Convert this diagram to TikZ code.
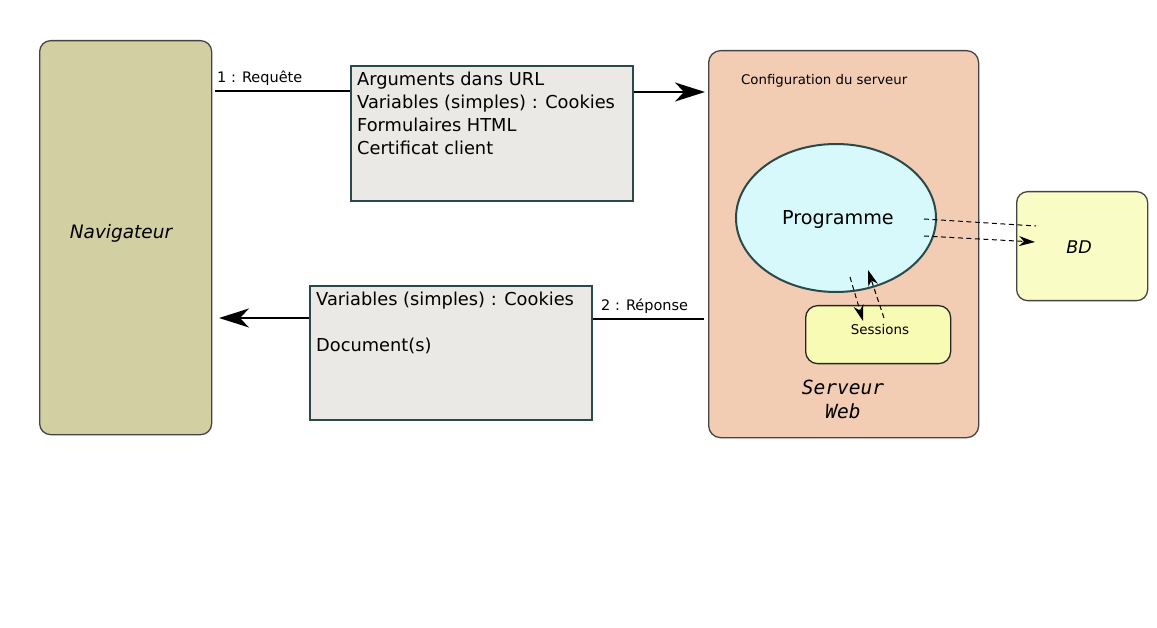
\documentclass[tikz,border=0pt]{standalone}
\usepackage{fontspec}
\setmainfont{DejaVu Sans}
\setmonofont{DejaVu Sans Mono}
\usetikzlibrary{arrows.meta,shapes.geometric}
\definecolor{navfill}{HTML}{D2CFA3}
\definecolor{srvfill}{HTML}{F2CDB4}
\definecolor{progfill}{HTML}{D7F9FC}
\definecolor{bdfill}{HTML}{F9FCC4}
\definecolor{sessfill}{HTML}{F8FBB3}
\definecolor{msgfill}{HTML}{EAE9E6}
\definecolor{teal}{HTML}{2A4A4A}
\definecolor{grayline}{HTML}{444444}
\tikzset{
  rbox/.style={draw=grayline, line width=1.3pt, rounded corners=11pt, inner sep=0pt, anchor=north west},
  msgbox/.style={draw=teal, line width=1.8pt, fill=msgfill, inner sep=0pt, anchor=north west},
  msgtext/.style={anchor=north west, align=left, inner sep=0pt, font=\fontsize{17.8}{23}\selectfont},
  smalllab/.style={inner sep=0pt, font=\fontsize{14.5}{17}\selectfont},
  bigarrow/.style={line width=1.8pt, -{Stealth[length=30pt,width=19pt,inset=9pt]}},
  plainline/.style={line width=1.8pt},
  dashline/.style={line width=1pt, dash pattern=on 5pt off 3.5pt},
  dasharrow/.style={dashline, -{Stealth[length=16pt,width=10pt,inset=5pt]}}
}
\begin{document}
\begin{tikzpicture}[x=1pt,y=-1pt]
\useasboundingbox (0,0) rectangle (1157,628);
% Navigateur
\node[rbox, fill=navfill, minimum width=172pt, minimum height=394pt] (nav) at (39,40) {};
\node[font=\fontsize{18.5}{22}\selectfont\itshape] (navt) at (121,233) {Navigateur};
% Serveur
\node[rbox, fill=srvfill, minimum width=270pt, minimum height=387pt, rounded corners=12pt] (srv) at (708,50) {};
\node[anchor=base west, inner sep=0pt, font=\fontsize{13.3}{16}\selectfont] (conf) at (741,85) {Configuration du serveur};
\node[draw=teal, line width=2pt, fill=progfill, ellipse, minimum width=200pt, minimum height=148pt, inner sep=0pt] (prog) at (836,218) {};
\node[font=\fontsize{19.2}{23}\selectfont] (progt) at (838,219) {Programme};
\node[rbox, draw=black!85, fill=sessfill, minimum width=145pt, minimum height=58pt, rounded corners=12pt] (sess) at (805,305) {};
\node[anchor=base, inner sep=0pt, font=\fontsize{13.4}{16}\selectfont] (sesst) at (880,335) {Sessions};
\node[align=center, inner sep=0pt, font=\fontsize{19.5}{24}\selectfont\ttfamily\itshape] (srvt) at (843,399) {Serveur\\Web};
% BD
\node[rbox, fill=bdfill, minimum width=131pt, minimum height=109pt] (bd) at (1016,191) {};
\node[font=\fontsize{17.5}{21}\selectfont\itshape] (bdt) at (1079,247) {BD};
% Requete
\node[msgbox, minimum width=282pt, minimum height=135pt] (req) at (350,65) {};
\node[msgtext] (reqt) at (357,72) {Arguments dans URL\\Variables (simples) : Cookies\\Formulaires HTML\\Certificat client};
% Reponse
\node[msgbox, minimum width=282pt, minimum height=134pt] (rep) at (309,285) {};
\node[msgtext] (rept) at (316,292) {Variables (simples) : Cookies\\[23pt]Document(s)};
% connectors
\coordinate (c1) at (215,91);
\draw[plainline] (c1) -- (req.west |- c1);
\node[smalllab, anchor=base west] (l1) at (217,83) {1 : Requête};
\coordinate (c2) at (705,92);
\draw[bigarrow] (req.east |- c2) -- (c2);
\coordinate (c3) at (704,319);
\draw[plainline] (rep.east |- c3) -- (c3);
\node[smalllab, anchor=base west] (l2) at (601,311) {2 : Réponse};
\coordinate (c4) at (219,318);
\draw[bigarrow] (rep.west |- c4) -- (c4);
% dashed
\coordinate (d1a) at (924,219);
\coordinate (d1b) at (1036,226);
\draw[dashline] (d1a) -- (d1b);
\coordinate (d2a) at (924,236);
\coordinate (d2b) at (1035,242);
\draw[dasharrow] (d2a) -- (d2b);
\coordinate (d3a) at (850,277);
\coordinate (d3b) at (863,321);
\draw[dasharrow] (d3a) -- (d3b);
\coordinate (d4a) at (884,318);
\coordinate (d4b) at (868,270);
\draw[dasharrow] (d4a) -- (d4b);
\end{tikzpicture}
\end{document}
